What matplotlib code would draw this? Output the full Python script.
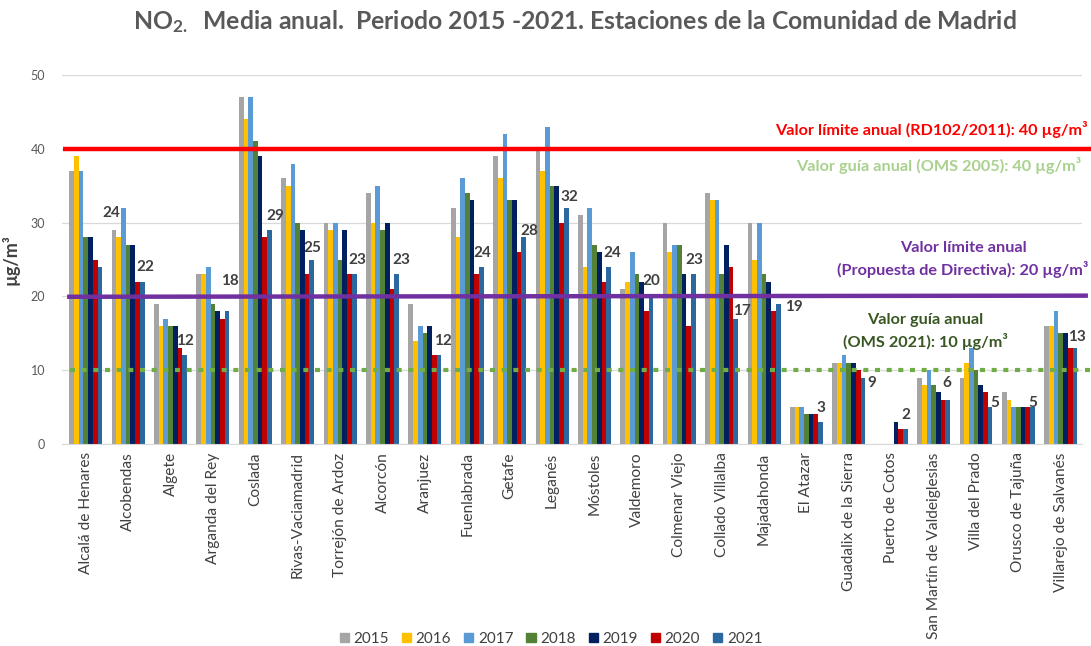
import matplotlib
matplotlib.use("Agg")
import matplotlib.pyplot as plt
from matplotlib.patches import Patch
import numpy as np

plt.rcParams['font.family'] = ['Lato', 'DejaVu Sans']
plt.rcParams['mathtext.default'] = 'regular'

# Datos: media anual de NO2 (µg/m3) por estación
estaciones = ['Alcalá de Henares', 'Alcobendas', 'Algete', 'Arganda del Rey', 'Coslada',
              'Rivas-Vaciamadrid', 'Torrejón de Ardoz', 'Alcorcón', 'Aranjuez', 'Fuenlabrada',
              'Getafe', 'Leganés', 'Móstoles', 'Valdemoro', 'Colmenar Viejo', 'Collado Villalba',
              'Majadahonda', 'El Atazar', 'Guadalix de la Sierra', 'Puerto de Cotos',
              'San Martín de Valdeiglesias', 'Villa del Prado', 'Orusco de Tajuña',
              'Villarejo de Salvanés']
anios = ['2015', '2016', '2017', '2018', '2019', '2020', '2021']
nan = np.nan
v2015 = [37, 29, 19, 23, 47, 36, 30, 34, 19, 32, 39, 40, 31, 21, 30, 34, 30, 5, 11, nan, 9, 9, 7, 16]
v2016 = [39, 28, 16, 23, 44, 35, 29, 30, 14, 28, 36, 37, 24, 22, 26, 33, 25, 5, 11, nan, 8, 11, 6, 16]
v2017 = [37, 32, 17, 24, 47, 38, 30, 35, 16, 36, 42, 43, 32, 26, 27, 33, 30, 5, 12, nan, 10, 13, 5, 18]
v2018 = [28, 27, 16, 19, 41, 30, 25, 29, 15, 34, 33, 35, 27, 23, 27, 23, 23, 4, 11, nan, 8, 10, 5, 15]
v2019 = [28, 27, 16, 18, 39, 29, 29, 30, 16, 33, 33, 35, 26, 22, 23, 27, 22, 4, 11, 3, 7, 8, 5, 15]
v2020 = [25, 22, 13, 17, 28, 23, 23, 21, 12, 23, 26, 30, 22, 18, 16, 24, 18, 4, 10, 2, 6, 7, 5, 13]
v2021 = [24, 22, 12, 18, 29, 25, 23, 23, 12, 24, 28, 32, 24, 20, 23, 17, 19, 3, 9, 2, 6, 5, 5, 13]
series = [v2015, v2016, v2017, v2018, v2019, v2020, v2021]
colores = ['#A5A5A5', '#FFC000', '#5B9BD5', '#538135', '#002060', '#C00000', '#2C68A0']

# posiciones de las etiquetas de 2021 (dx respecto al grupo, dy respecto al valor)
etiq_dx = [0.60, 0.41, 0.34, 0.40, 0.47, 0.35, 0.41, 0.45, 0.42, 0.35, 0.46, 0.41,
           0.41, 0.33, 0.36, 0.48, 0.71, 0.35, 0.55, 0.35, 0.32, 0.45, 0.35, 0.38]
etiq_dy = [7.3, 2.0, 2.0, 4.1, 1.9, 1.6, 2.0, 2.0, 2.0, 1.9, 0.9, 1.5,
           1.9, 2.1, 2.0, 1.0, -0.4, 1.9, -0.7, 1.9, 2.3, 0.6, 0.6, 1.5]

W, H = 1091, 646
fig = plt.figure(figsize=(W / 100, H / 100), dpi=100)
ax = fig.add_axes([62 / W, 1 - 444 / H, (1082 - 62) / W, (444 - 75) / H])

x = np.arange(len(estaciones))
w = 0.111
for k, (vals, c) in enumerate(zip(series, colores)):
    ax.bar(x + (k - 3) * w, vals, width=w, color=c, zorder=2, label=anios[k])

for i, v in enumerate(v2021):
    ax.text(x[i] + etiq_dx[i], v + etiq_dy[i], str(v), ha='center', va='center',
            fontsize=11, fontweight='bold', color='#404040', zorder=5)

ax.set_xlim(-0.56, 23.5)
ax.set_ylim(0, 50)
ax.set_yticks([0, 10, 20, 30, 40, 50])
ax.yaxis.grid(True, color='#D9D9D9', lw=0.9, zorder=0)
ax.set_axisbelow(True)
for s in ['top', 'right', 'left']:
    ax.spines[s].set_visible(False)
ax.spines['bottom'].set_color('#D9D9D9')
ax.tick_params(axis='y', length=0, pad=12, labelsize=9, labelcolor='#595959')
ax.tick_params(axis='x', length=0, pad=6, labelsize=11.2, labelcolor='#404040')
ax.set_xticks(x)
ax.set_xticklabels(estaciones, rotation=90, va='top')
ax.set_ylabel('µg/m³', fontsize=13, fontweight='bold', color='#404040', labelpad=8)

# líneas de referencia
ax.plot([-0.54, 23.71], [40, 40], color='#FF0000', lw=3.2, zorder=4, clip_on=False,
        solid_capstyle='butt')
ax.plot([-0.44, 23.64], [19.95, 20.1], color='#7030A0', lw=3.2, zorder=4, clip_on=False,
        solid_capstyle='butt')
ax.plot([-0.37, 23.71], [10, 10], color='#70AD47', lw=3, zorder=4, clip_on=False,
        linestyle=(0, (1.2, 1.6)), dash_capstyle='butt')

fx = lambda px: px / W
fy = lambda py: 1 - py / H
fs_ref = 11.7
fig.text(fx(1088), fy(130), 'Valor límite anual (RD102/2011): 40 µg/m³', ha='right',
         va='center', fontsize=fs_ref, fontweight='bold', color='#FF0000')
fig.text(fx(1081), fy(165), 'Valor guía anual (OMS 2005): 40 µg/m³', ha='right',
         va='center', fontsize=fs_ref, fontweight='bold', color='#A9D18E')
fig.text(fx(963), fy(248), 'Valor límite anual', ha='center', va='center',
         fontsize=fs_ref, fontweight='bold', color='#7030A0')
fig.text(fx(1088), fy(270), '(Propuesta de Directiva): 20 µg/m³', ha='right',
         va='center', fontsize=fs_ref, fontweight='bold', color='#7030A0')
fig.text(fx(925), fy(320), 'Valor guía anual', ha='center', va='center',
         fontsize=fs_ref, fontweight='bold', color='#385723')
fig.text(fx(925), fy(342), '(OMS 2021): 10 µg/m³', ha='center', va='center',
         fontsize=fs_ref, fontweight='bold', color='#385723')

fig.text(fx(575), fy(22), 'NO$_{2.}$  Media anual.  Periodo 2015 -2021. Estaciones de la Comunidad de Madrid',
         ha='center', va='center', fontsize=17.8, fontweight='bold', color='#595959')

handles = [Patch(color=c) for c in colores]
fig.legend(handles, anios, loc='center', bbox_to_anchor=(fx(551), fy(639)), ncol=7,
           frameon=False, fontsize=11, handlelength=0.6, handleheight=0.6,
           handletextpad=0.3, columnspacing=0.85, labelcolor='#404040',
           borderaxespad=0, borderpad=0)

fig.savefig('out.png', dpi=100)
